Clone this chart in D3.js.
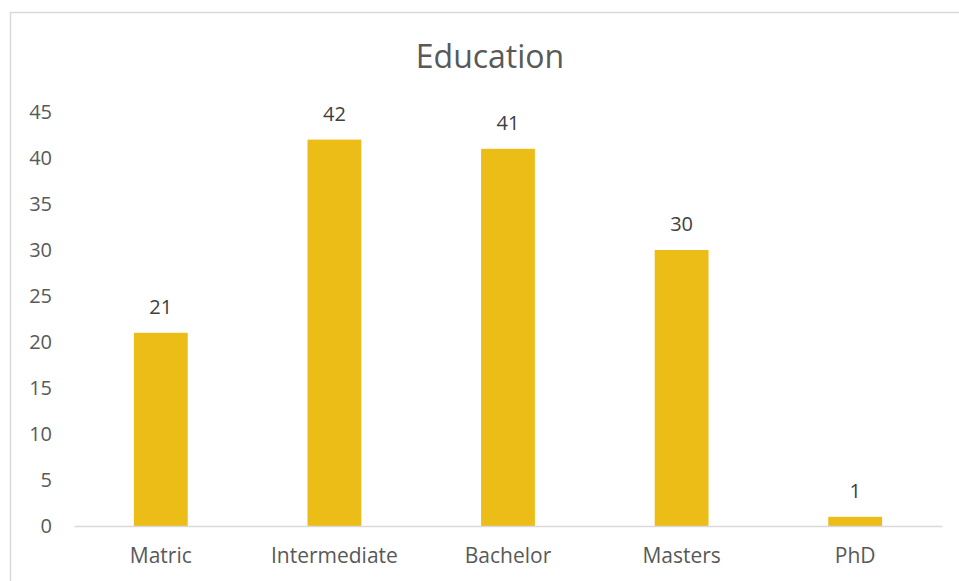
<!DOCTYPE html>
<html>
<head>
<meta charset="utf-8">
<script src="https://cdn.jsdelivr.net/npm/d3@7"></script>
<style>
	body { margin: 0; background: #fff; }
	text { font-family: "Open Sans", sans-serif; fill: #595959; }
</style>
</head>
<body>
<div id="wrapper"></div>
<script>
const categories = ["Matric", "Intermediate", "Bachelor", "Masters", "PhD"];
const counts = [21, 42, 41, 30, 1];
const yTicks = [0, 5, 10, 15, 20, 25, 30, 35, 40, 45];

function drawBar(){
	const dataset = categories.map((c, i) => ({ category: c, value: counts[i] }));

	let dimensions = {
		width: 959,
		height: 581,
		margin: { top: 112, right: 17, bottom: 55, left: 74 }
	};
	dimensions.boundedWidth = dimensions.width - dimensions.margin.left - dimensions.margin.right;
	dimensions.boundedHeight = dimensions.height - dimensions.margin.top - dimensions.margin.bottom;

	const wrapper = d3.select("#wrapper").append("svg")
		.attr("width", dimensions.width)
		.attr("height", dimensions.height);

	// chart frame
	wrapper.append("rect")
		.attr("x", 10.5).attr("y", 12.5)
		.attr("width", 980).attr("height", 600)
		.attr("fill", "none")
		.attr("stroke", "#d9d9d9")
		.attr("stroke-width", 1.5);

	wrapper.append("text")
		.attr("x", 490).attr("y", 68)
		.attr("text-anchor", "middle")
		.attr("font-size", "32px")
		.text("Education");

	const bounds = wrapper.append("g")
		.attr("transform", `translate(${dimensions.margin.left},${dimensions.margin.top})`);

	const xScaler = d3.scaleBand()
		.domain(categories)
		.range([0, dimensions.boundedWidth])
		.paddingInner(0.69)
		.paddingOuter(0.345);

	const yScaler = d3.scaleLinear()
		.domain([0, 45])
		.range([dimensions.boundedHeight, 0]);

	bounds.selectAll("rect.bar")
		.data(dataset)
		.enter()
		.append("rect")
		.attr("class", "bar")
		.attr("x", d => xScaler(d.category))
		.attr("y", d => yScaler(d.value))
		.attr("width", xScaler.bandwidth())
		.attr("height", d => dimensions.boundedHeight - yScaler(d.value))
		.attr("fill", "#ECBC17");

	bounds.selectAll("text.val")
		.data(dataset)
		.enter()
		.append("text")
		.attr("class", "val")
		.attr("x", d => xScaler(d.category) + xScaler.bandwidth() / 2)
		.attr("y", d => yScaler(d.value) - 19)
		.attr("text-anchor", "middle")
		.attr("font-size", "20px")
		.style("fill", "#404040")
		.text(d => d.value);

	const xAxis = bounds.append("g")
		.attr("transform", `translate(0,${dimensions.boundedHeight})`)
		.call(d3.axisBottom(xScaler).tickSize(0).tickPadding(22).tickSizeOuter(0));
	xAxis.select(".domain").attr("stroke", "#d9d9d9").attr("stroke-width", 1.5);
	xAxis.selectAll("text").attr("font-size", "21px").attr("font-family", null).attr("fill", "#595959");

	const yAxis = bounds.append("g")
		.call(d3.axisLeft(yScaler).tickValues(yTicks).tickSize(0).tickPadding(22));
	yAxis.select(".domain").remove();
	yAxis.selectAll("text").attr("font-size", "20px").attr("font-family", null).attr("fill", "#595959");
}

drawBar();
</script>
</body>
</html>
